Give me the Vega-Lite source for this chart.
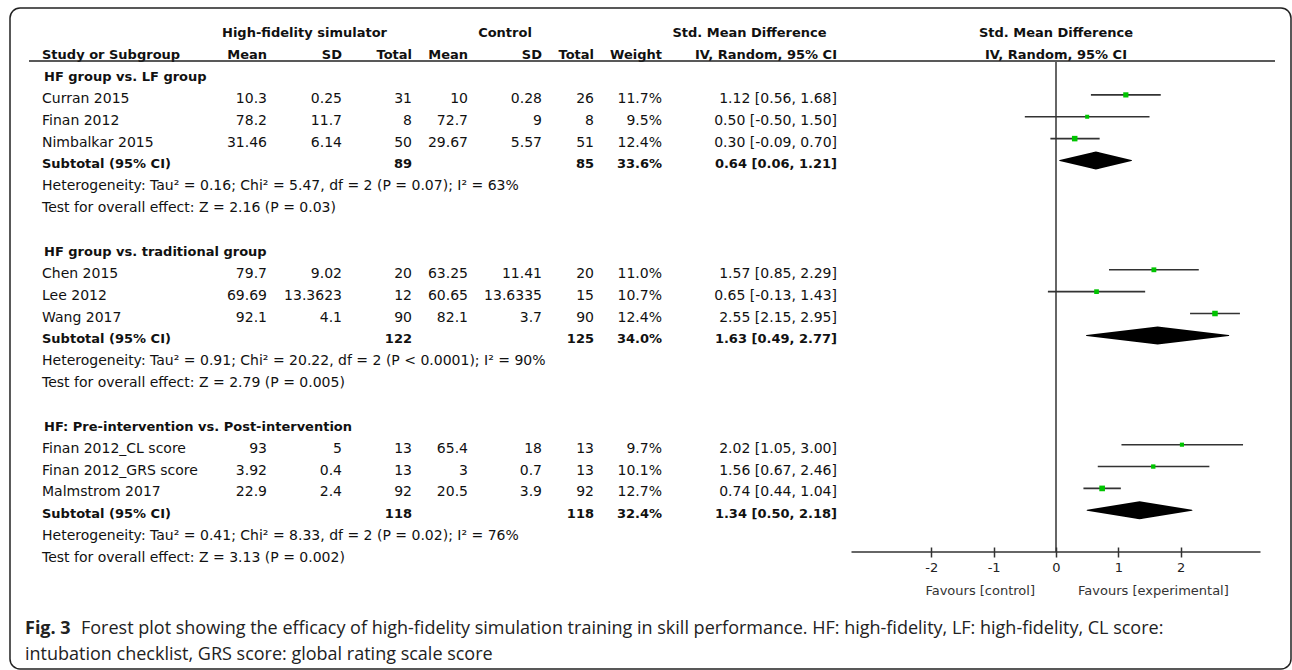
{
  "$schema": "https://vega.github.io/schema/vega-lite/v6.json",
  "width": 1281,
  "height": 661,
  "autosize": {"type": "none"},
  "padding": {"left": 10, "top": 8, "right": 1, "bottom": 1},
  "background": "white",
  "config": {"view": {"stroke": "#222", "strokeWidth": 1.5, "cornerRadius": 10}},
  "datasets": {
    "studies": [
      {"name": "Curran 2015", "kind": "study", "row": 3, "hm": 10.3, "hs": 0.25, "hn": 31, "cm": 10, "cs": 0.28, "cn": 26, "w": 0.117, "smd": 1.12, "lo": 0.56, "hi": 1.68, "ci": "1.12 [0.56, 1.68]"},
      {"name": "Finan 2012", "kind": "study", "row": 4, "hm": 78.2, "hs": 11.7, "hn": 8, "cm": 72.7, "cs": 9, "cn": 8, "w": 0.095, "smd": 0.5, "lo": -0.5, "hi": 1.5, "ci": "0.50 [-0.50, 1.50]"},
      {"name": "Nimbalkar 2015", "kind": "study", "row": 5, "hm": 31.46, "hs": 6.14, "hn": 50, "cm": 29.67, "cs": 5.57, "cn": 51, "w": 0.124, "smd": 0.3, "lo": -0.09, "hi": 0.7, "ci": "0.30 [-0.09, 0.70]"},
      {"name": "Subtotal (95% CI)", "kind": "subtotal", "row": 6, "hn": 89, "cn": 85, "w": 0.336, "smd": 0.64, "lo": 0.06, "hi": 1.21, "ci": "0.64 [0.06, 1.21]"},
      {"name": "Chen 2015", "kind": "study", "row": 11, "hm": 79.7, "hs": 9.02, "hn": 20, "cm": 63.25, "cs": 11.41, "cn": 20, "w": 0.11, "smd": 1.57, "lo": 0.85, "hi": 2.29, "ci": "1.57 [0.85, 2.29]"},
      {"name": "Lee 2012", "kind": "study", "row": 12, "hm": 69.69, "hs": 13.3623, "hn": 12, "cm": 60.65, "cs": 13.6335, "cn": 15, "w": 0.107, "smd": 0.65, "lo": -0.13, "hi": 1.43, "ci": "0.65 [-0.13, 1.43]"},
      {"name": "Wang 2017", "kind": "study", "row": 13, "hm": 92.1, "hs": 4.1, "hn": 90, "cm": 82.1, "cs": 3.7, "cn": 90, "w": 0.124, "smd": 2.55, "lo": 2.15, "hi": 2.95, "ci": "2.55 [2.15, 2.95]"},
      {"name": "Subtotal (95% CI)", "kind": "subtotal", "row": 14, "hn": 122, "cn": 125, "w": 0.34, "smd": 1.63, "lo": 0.49, "hi": 2.77, "ci": "1.63 [0.49, 2.77]"},
      {"name": "Finan 2012_CL score", "kind": "study", "row": 19, "hm": 93, "hs": 5, "hn": 13, "cm": 65.4, "cs": 18, "cn": 13, "w": 0.097, "smd": 2.02, "lo": 1.05, "hi": 3.0, "ci": "2.02 [1.05, 3.00]"},
      {"name": "Finan 2012_GRS score", "kind": "study", "row": 20, "hm": 3.92, "hs": 0.4, "hn": 13, "cm": 3, "cs": 0.7, "cn": 13, "w": 0.101, "smd": 1.56, "lo": 0.67, "hi": 2.46, "ci": "1.56 [0.67, 2.46]"},
      {"name": "Malmstrom 2017", "kind": "study", "row": 21, "hm": 22.9, "hs": 2.4, "hn": 92, "cm": 20.5, "cs": 3.9, "cn": 92, "w": 0.127, "smd": 0.74, "lo": 0.44, "hi": 1.04, "ci": "0.74 [0.44, 1.04]"},
      {"name": "Subtotal (95% CI)", "kind": "subtotal", "row": 22, "hn": 118, "cn": 118, "w": 0.324, "smd": 1.34, "lo": 0.5, "hi": 2.18, "ci": "1.34 [0.50, 2.18]"}
    ],
    "notes": [
      {"row": 2, "kind": "group", "text": "HF group vs. LF group"},
      {"row": 7, "kind": "note", "text": "Heterogeneity: Tau² = 0.16; Chi² = 5.47, df = 2 (P = 0.07); I² = 63%"},
      {"row": 8, "kind": "note", "text": "Test for overall effect: Z = 2.16 (P = 0.03)"},
      {"row": 10, "kind": "group", "text": "HF group vs. traditional group"},
      {"row": 15, "kind": "note", "text": "Heterogeneity: Tau² = 0.91; Chi² = 20.22, df = 2 (P < 0.0001); I² = 90%"},
      {"row": 16, "kind": "note", "text": "Test for overall effect: Z = 2.79 (P = 0.005)"},
      {"row": 18, "kind": "group", "text": "HF: Pre-intervention vs. Post-intervention"},
      {"row": 23, "kind": "note", "text": "Heterogeneity: Tau² = 0.41; Chi² = 8.33, df = 2 (P = 0.02); I² = 76%"},
      {"row": 24, "kind": "note", "text": "Test for overall effect: Z = 3.13 (P = 0.002)"}
    ],
    "columns": [
      {"key": "hm", "col": 1}, {"key": "hs", "col": 2}, {"key": "hn", "col": 3},
      {"key": "cm", "col": 4}, {"key": "cs", "col": 5}, {"key": "cn", "col": 6},
      {"key": "ci", "col": 8}
    ]
  },
  "layer": [
    {
      "layer": [
        {
          "data": {"values": [
            {"text": "High-fidelity simulator", "col": 1.5, "row": 0},
            {"text": "Control", "col": 4.5, "row": 0},
            {"text": "Std. Mean Difference", "col": 7.5, "row": 0},
            {"text": "Std. Mean Difference", "col": 8.5, "row": 0},
            {"text": "IV, Random, 95% CI", "col": 8.5, "row": 1}
          ]},
          "mark": {"type": "text", "align": "center", "baseline": "middle", "font": "DejaVu Sans", "fontWeight": "bold", "fontSize": 13, "color": "#111"},
          "encoding": {
            "x": {"field": "col", "type": "quantitative", "scale": {"type": "linear", "domain": [-0.5, 0, 1, 2, 3, 4, 5, 6, 7, 8, 9], "range": [19, 32, 257, 332, 402, 458, 532, 584, 652, 827, 1265], "zero": false, "nice": false}, "axis": null},
            "y": {"field": "row", "type": "quantitative", "scale": {"type": "linear", "domain": [0, 24], "range": [25.3, 550], "zero": false, "nice": false}, "axis": null},
            "text": {"field": "text"}
          }
        },
        {
          "data": {"values": [{"text": "Study or Subgroup", "col": 0, "row": 1}]},
          "mark": {"type": "text", "align": "left", "baseline": "middle", "font": "DejaVu Sans", "fontWeight": "bold", "fontSize": 13, "color": "#111"},
          "encoding": {
            "x": {"field": "col", "type": "quantitative", "scale": {"type": "linear", "domain": [-0.5, 0, 1, 2, 3, 4, 5, 6, 7, 8, 9], "range": [19, 32, 257, 332, 402, 458, 532, 584, 652, 827, 1265], "zero": false, "nice": false}, "axis": null},
            "y": {"field": "row", "type": "quantitative", "scale": {"type": "linear", "domain": [0, 24], "range": [25.3, 550], "zero": false, "nice": false}, "axis": null},
            "text": {"field": "text"}
          }
        },
        {
          "data": {"values": [
            {"text": "Mean", "col": 1, "row": 1},
            {"text": "SD", "col": 2, "row": 1},
            {"text": "Total", "col": 3, "row": 1},
            {"text": "Mean", "col": 4, "row": 1},
            {"text": "SD", "col": 5, "row": 1},
            {"text": "Total", "col": 6, "row": 1},
            {"text": "Weight", "col": 7, "row": 1},
            {"text": "IV, Random, 95% CI", "col": 8, "row": 1}
          ]},
          "mark": {"type": "text", "align": "right", "baseline": "middle", "font": "DejaVu Sans", "fontWeight": "bold", "fontSize": 13, "color": "#111"},
          "encoding": {
            "x": {"field": "col", "type": "quantitative", "scale": {"type": "linear", "domain": [-0.5, 0, 1, 2, 3, 4, 5, 6, 7, 8, 9], "range": [19, 32, 257, 332, 402, 458, 532, 584, 652, 827, 1265], "zero": false, "nice": false}, "axis": null},
            "y": {"field": "row", "type": "quantitative", "scale": {"type": "linear", "domain": [0, 24], "range": [25.3, 550], "zero": false, "nice": false}, "axis": null},
            "text": {"field": "text"}
          }
        },
        {
          "data": {"values": [{}]},
          "mark": {"type": "rule", "color": "#222", "strokeWidth": 1.5},
          "encoding": {
            "x": {"datum": -0.5, "type": "quantitative", "scale": {"type": "linear", "domain": [-0.5, 0, 1, 2, 3, 4, 5, 6, 7, 8, 9], "range": [19, 32, 257, 332, 402, 458, 532, 584, 652, 827, 1265], "zero": false, "nice": false}, "axis": null},
            "x2": {"datum": 9},
            "y": {"datum": 1.27, "type": "quantitative", "scale": {"type": "linear", "domain": [0, 24], "range": [25.3, 550], "zero": false, "nice": false}, "axis": null}
          }
        },
        {
          "data": {"name": "notes"},
          "transform": [{"filter": "datum.kind === 'group'"}],
          "mark": {"type": "text", "align": "left", "baseline": "middle", "font": "DejaVu Sans", "fontWeight": "bold", "fontSize": 13, "color": "#111", "dx": 2},
          "encoding": {
            "x": {"datum": 0, "type": "quantitative", "scale": {"type": "linear", "domain": [-0.5, 0, 1, 2, 3, 4, 5, 6, 7, 8, 9], "range": [19, 32, 257, 332, 402, 458, 532, 584, 652, 827, 1265], "zero": false, "nice": false}, "axis": null},
            "y": {"field": "row", "type": "quantitative", "scale": {"type": "linear", "domain": [0, 24], "range": [25.3, 550], "zero": false, "nice": false}, "axis": null},
            "text": {"field": "text"}
          }
        },
        {
          "data": {"name": "notes"},
          "transform": [{"filter": "datum.kind === 'note'"}],
          "mark": {"type": "text", "align": "left", "baseline": "middle", "font": "DejaVu Sans", "fontSize": 14, "color": "#111"},
          "encoding": {
            "x": {"datum": 0, "type": "quantitative", "scale": {"type": "linear", "domain": [-0.5, 0, 1, 2, 3, 4, 5, 6, 7, 8, 9], "range": [19, 32, 257, 332, 402, 458, 532, 584, 652, 827, 1265], "zero": false, "nice": false}, "axis": null},
            "y": {"field": "row", "type": "quantitative", "scale": {"type": "linear", "domain": [0, 24], "range": [25.3, 550], "zero": false, "nice": false}, "axis": null},
            "text": {"field": "text"}
          }
        },
        {
          "data": {"name": "studies"},
          "transform": [{"filter": "datum.kind === 'study'"}],
          "mark": {"type": "text", "align": "left", "baseline": "middle", "font": "DejaVu Sans", "fontSize": 14, "color": "#111"},
          "encoding": {
            "x": {"datum": 0, "type": "quantitative", "scale": {"type": "linear", "domain": [-0.5, 0, 1, 2, 3, 4, 5, 6, 7, 8, 9], "range": [19, 32, 257, 332, 402, 458, 532, 584, 652, 827, 1265], "zero": false, "nice": false}, "axis": null},
            "y": {"field": "row", "type": "quantitative", "scale": {"type": "linear", "domain": [0, 24], "range": [25.3, 550], "zero": false, "nice": false}, "axis": null},
            "text": {"field": "name"}
          }
        },
        {
          "data": {"name": "studies"},
          "transform": [{"filter": "datum.kind === 'subtotal'"}],
          "mark": {"type": "text", "align": "left", "baseline": "middle", "font": "DejaVu Sans", "fontWeight": "bold", "fontSize": 13, "color": "#111"},
          "encoding": {
            "x": {"datum": 0, "type": "quantitative", "scale": {"type": "linear", "domain": [-0.5, 0, 1, 2, 3, 4, 5, 6, 7, 8, 9], "range": [19, 32, 257, 332, 402, 458, 532, 584, 652, 827, 1265], "zero": false, "nice": false}, "axis": null},
            "y": {"field": "row", "type": "quantitative", "scale": {"type": "linear", "domain": [0, 24], "range": [25.3, 550], "zero": false, "nice": false}, "axis": null},
            "text": {"field": "name"}
          }
        },
        {
          "data": {"name": "studies"},
          "transform": [
            {"filter": "datum.kind === 'study'"},
            {"fold": ["hm", "hs", "hn", "cm", "cs", "cn", "ci"], "as": ["key", "value"]},
            {"lookup": "key", "from": {"data": {"name": "columns"}, "key": "key", "fields": ["col"]}}
          ],
          "mark": {"type": "text", "align": "right", "baseline": "middle", "font": "DejaVu Sans", "fontSize": 14, "color": "#111"},
          "encoding": {
            "x": {"field": "col", "type": "quantitative", "scale": {"type": "linear", "domain": [-0.5, 0, 1, 2, 3, 4, 5, 6, 7, 8, 9], "range": [19, 32, 257, 332, 402, 458, 532, 584, 652, 827, 1265], "zero": false, "nice": false}, "axis": null},
            "y": {"field": "row", "type": "quantitative", "scale": {"type": "linear", "domain": [0, 24], "range": [25.3, 550], "zero": false, "nice": false}, "axis": null},
            "text": {"field": "value", "type": "nominal"}
          }
        },
        {
          "data": {"name": "studies"},
          "transform": [
            {"filter": "datum.kind === 'subtotal'"},
            {"fold": ["hn", "cn", "ci"], "as": ["key", "value"]},
            {"lookup": "key", "from": {"data": {"name": "columns"}, "key": "key", "fields": ["col"]}}
          ],
          "mark": {"type": "text", "align": "right", "baseline": "middle", "font": "DejaVu Sans", "fontWeight": "bold", "fontSize": 13, "color": "#111"},
          "encoding": {
            "x": {"field": "col", "type": "quantitative", "scale": {"type": "linear", "domain": [-0.5, 0, 1, 2, 3, 4, 5, 6, 7, 8, 9], "range": [19, 32, 257, 332, 402, 458, 532, 584, 652, 827, 1265], "zero": false, "nice": false}, "axis": null},
            "y": {"field": "row", "type": "quantitative", "scale": {"type": "linear", "domain": [0, 24], "range": [25.3, 550], "zero": false, "nice": false}, "axis": null},
            "text": {"field": "value", "type": "nominal"}
          }
        },
        {
          "data": {"name": "studies"},
          "transform": [{"filter": "datum.kind === 'study'"}],
          "mark": {"type": "text", "align": "right", "baseline": "middle", "font": "DejaVu Sans", "fontSize": 14, "color": "#111"},
          "encoding": {
            "x": {"datum": 7, "type": "quantitative", "scale": {"type": "linear", "domain": [-0.5, 0, 1, 2, 3, 4, 5, 6, 7, 8, 9], "range": [19, 32, 257, 332, 402, 458, 532, 584, 652, 827, 1265], "zero": false, "nice": false}, "axis": null},
            "y": {"field": "row", "type": "quantitative", "scale": {"type": "linear", "domain": [0, 24], "range": [25.3, 550], "zero": false, "nice": false}, "axis": null},
            "text": {"field": "w", "type": "quantitative", "format": ".1%"}
          }
        },
        {
          "data": {"name": "studies"},
          "transform": [{"filter": "datum.kind === 'subtotal'"}],
          "mark": {"type": "text", "align": "right", "baseline": "middle", "font": "DejaVu Sans", "fontWeight": "bold", "fontSize": 13, "color": "#111"},
          "encoding": {
            "x": {"datum": 7, "type": "quantitative", "scale": {"type": "linear", "domain": [-0.5, 0, 1, 2, 3, 4, 5, 6, 7, 8, 9], "range": [19, 32, 257, 332, 402, 458, 532, 584, 652, 827, 1265], "zero": false, "nice": false}, "axis": null},
            "y": {"field": "row", "type": "quantitative", "scale": {"type": "linear", "domain": [0, 24], "range": [25.3, 550], "zero": false, "nice": false}, "axis": null},
            "text": {"field": "w", "type": "quantitative", "format": ".1%"}
          }
        }
      ]
    },
    {
      "layer": [
        {
          "data": {"values": [{}]},
          "mark": {"type": "rule", "color": "#333", "strokeWidth": 1.5},
          "encoding": {
            "x": {"datum": 0, "type": "quantitative", "scale": {"type": "linear", "domain": [-3.28, 3.28], "range": [841.5, 1250.5], "zero": false, "nice": false},
                  "axis": {"orient": "bottom", "offset": -122, "values": [-2, -1, 0, 1, 2], "domain": false, "grid": false, "ticks": true, "tickSize": 10, "tickWidth": 1.5, "tickColor": "#333", "labelFont": "DejaVu Sans", "labelFontSize": 13, "labelColor": "#222", "labelPadding": 4, "title": null, "labelExpr": "'' + datum.value", "labelFlush": false, "labelOverlap": false}},
            "y": {"datum": 1.5, "type": "quantitative", "scale": {"type": "linear", "domain": [0, 24], "range": [21.3, 546], "zero": false, "nice": false}, "axis": null},
            "y2": {"datum": 23.91}
          }
        },
        {
          "data": {"values": [{}]},
          "mark": {"type": "rule", "color": "#333", "strokeWidth": 1.5},
          "encoding": {
            "x": {"datum": -3.28, "type": "quantitative", "scale": {"type": "linear", "domain": [-3.28, 3.28], "range": [841.5, 1250.5], "zero": false, "nice": false},
                  "axis": {"orient": "bottom", "offset": -122, "values": [-2, -1, 0, 1, 2], "domain": false, "grid": false, "ticks": true, "tickSize": 10, "tickWidth": 1.5, "tickColor": "#333", "labelFont": "DejaVu Sans", "labelFontSize": 13, "labelColor": "#222", "labelPadding": 4, "title": null, "labelExpr": "'' + datum.value", "labelFlush": false, "labelOverlap": false}},
            "x2": {"datum": 3.28},
            "y": {"datum": 23.91, "type": "quantitative", "scale": {"type": "linear", "domain": [0, 24], "range": [21.3, 546], "zero": false, "nice": false}, "axis": null}
          }
        },
        {
          "data": {"name": "studies"},
          "transform": [{"filter": "datum.kind === 'study'"}],
          "mark": {"type": "rule", "color": "#333", "strokeWidth": 1.6},
          "encoding": {
            "x": {"field": "lo", "type": "quantitative", "scale": {"type": "linear", "domain": [-3.28, 3.28], "range": [841.5, 1250.5], "zero": false, "nice": false},
                  "axis": {"orient": "bottom", "offset": -122, "values": [-2, -1, 0, 1, 2], "domain": false, "grid": false, "ticks": true, "tickSize": 10, "tickWidth": 1.5, "tickColor": "#333", "labelFont": "DejaVu Sans", "labelFontSize": 13, "labelColor": "#222", "labelPadding": 4, "title": null, "labelExpr": "'' + datum.value", "labelFlush": false, "labelOverlap": false}},
            "x2": {"field": "hi"},
            "y": {"field": "row", "type": "quantitative", "scale": {"type": "linear", "domain": [0, 24], "range": [21.3, 546], "zero": false, "nice": false}, "axis": null}
          }
        },
        {
          "data": {"name": "studies"},
          "transform": [{"filter": "datum.kind === 'study'"}],
          "mark": {"type": "square", "filled": true, "color": "#00c400", "opacity": 1},
          "encoding": {
            "x": {"field": "smd", "type": "quantitative", "scale": {"type": "linear", "domain": [-3.28, 3.28], "range": [841.5, 1250.5], "zero": false, "nice": false},
                  "axis": {"orient": "bottom", "offset": -122, "values": [-2, -1, 0, 1, 2], "domain": false, "grid": false, "ticks": true, "tickSize": 10, "tickWidth": 1.5, "tickColor": "#333", "labelFont": "DejaVu Sans", "labelFontSize": 13, "labelColor": "#222", "labelPadding": 4, "title": null, "labelExpr": "'' + datum.value", "labelFlush": false, "labelOverlap": false}},
            "y": {"field": "row", "type": "quantitative", "scale": {"type": "linear", "domain": [0, 24], "range": [21.3, 546], "zero": false, "nice": false}, "axis": null},
            "size": {"field": "w", "type": "quantitative", "scale": {"domain": [0.095, 0.127], "range": [16, 32], "zero": false}, "legend": null}
          }
        },
        {
          "data": {"name": "studies"},
          "transform": [
            {"filter": "datum.kind === 'subtotal'"},
            {"fold": ["lo", "smd", "hi"], "as": ["vertex", "xv"]}
          ],
          "mark": {"type": "trail", "color": "#000"},
          "encoding": {
            "x": {"field": "xv", "type": "quantitative", "scale": {"type": "linear", "domain": [-3.28, 3.28], "range": [841.5, 1250.5], "zero": false, "nice": false},
                  "axis": {"orient": "bottom", "offset": -122, "values": [-2, -1, 0, 1, 2], "domain": false, "grid": false, "ticks": true, "tickSize": 10, "tickWidth": 1.5, "tickColor": "#333", "labelFont": "DejaVu Sans", "labelFontSize": 13, "labelColor": "#222", "labelPadding": 4, "title": null, "labelExpr": "'' + datum.value", "labelFlush": false, "labelOverlap": false}},
            "y": {"field": "row", "type": "quantitative", "scale": {"type": "linear", "domain": [0, 24], "range": [21.3, 546], "zero": false, "nice": false}, "axis": null},
            "size": {"field": "vertex", "type": "ordinal", "scale": {"type": "ordinal", "domain": ["lo", "smd", "hi"], "range": [0, 18, 0]}, "legend": null},
            "detail": {"field": "row", "type": "nominal"},
            "order": {"field": "xv", "type": "quantitative"}
          }
        },
        {
          "data": {"values": [{"text": "Favours [control]"}]},
          "mark": {"type": "text", "align": "right", "baseline": "middle", "font": "DejaVu Sans", "fontSize": 13, "color": "#333", "dx": -21},
          "encoding": {
            "x": {"datum": 0, "type": "quantitative", "scale": {"type": "linear", "domain": [-3.28, 3.28], "range": [841.5, 1250.5], "zero": false, "nice": false},
                  "axis": {"orient": "bottom", "offset": -122, "values": [-2, -1, 0, 1, 2], "domain": false, "grid": false, "ticks": true, "tickSize": 10, "tickWidth": 1.5, "tickColor": "#333", "labelFont": "DejaVu Sans", "labelFontSize": 13, "labelColor": "#222", "labelPadding": 4, "title": null, "labelExpr": "'' + datum.value", "labelFlush": false, "labelOverlap": false}},
            "y": {"datum": 25.7, "type": "quantitative", "scale": {"type": "linear", "domain": [0, 24], "range": [21.3, 546], "zero": false, "nice": false}, "axis": null},
            "text": {"field": "text"}
          }
        },
        {
          "data": {"values": [{"text": "Favours [experimental]"}]},
          "mark": {"type": "text", "align": "left", "baseline": "middle", "font": "DejaVu Sans", "fontSize": 13, "color": "#333", "dx": 22},
          "encoding": {
            "x": {"datum": 0, "type": "quantitative", "scale": {"type": "linear", "domain": [-3.28, 3.28], "range": [841.5, 1250.5], "zero": false, "nice": false},
                  "axis": {"orient": "bottom", "offset": -122, "values": [-2, -1, 0, 1, 2], "domain": false, "grid": false, "ticks": true, "tickSize": 10, "tickWidth": 1.5, "tickColor": "#333", "labelFont": "DejaVu Sans", "labelFontSize": 13, "labelColor": "#222", "labelPadding": 4, "title": null, "labelExpr": "'' + datum.value", "labelFlush": false, "labelOverlap": false}},
            "y": {"datum": 25.7, "type": "quantitative", "scale": {"type": "linear", "domain": [0, 24], "range": [21.3, 546], "zero": false, "nice": false}, "axis": null},
            "text": {"field": "text"}
          }
        }
      ]
    },
    {
      "layer": [
        {
          "data": {"values": [{"line": 1, "text": "Fig. 3"}]},
          "mark": {"type": "text", "align": "left", "baseline": "middle", "font": "Open Sans", "fontWeight": "bold", "fontSize": 18, "color": "#222"},
          "encoding": {
            "x": {"datum": 0, "type": "quantitative", "scale": {"type": "linear", "domain": [0, 1], "range": [15, 1280], "zero": false, "nice": false}, "axis": null},
            "y": {"field": "line", "type": "quantitative", "scale": {"type": "linear", "domain": [1, 2], "range": [621, 647], "zero": false, "nice": false}, "axis": null},
            "text": {"field": "text"}
          }
        },
        {
          "data": {"values": [{"line": 1, "text": "Forest plot showing the efficacy of high-fidelity simulation training in skill performance. HF: high-fidelity, LF: high-fidelity, CL score:"}]},
          "mark": {"type": "text", "align": "left", "baseline": "middle", "font": "Open Sans", "fontSize": 18, "color": "#222", "dx": 56},
          "encoding": {
            "x": {"datum": 0, "type": "quantitative", "scale": {"type": "linear", "domain": [0, 1], "range": [15, 1280], "zero": false, "nice": false}, "axis": null},
            "y": {"field": "line", "type": "quantitative", "scale": {"type": "linear", "domain": [1, 2], "range": [621, 647], "zero": false, "nice": false}, "axis": null},
            "text": {"field": "text"}
          }
        },
        {
          "data": {"values": [{"line": 2, "text": "intubation checklist, GRS score: global rating scale score"}]},
          "mark": {"type": "text", "align": "left", "baseline": "middle", "font": "Open Sans", "fontSize": 18, "color": "#222"},
          "encoding": {
            "x": {"datum": 0, "type": "quantitative", "scale": {"type": "linear", "domain": [0, 1], "range": [15, 1280], "zero": false, "nice": false}, "axis": null},
            "y": {"field": "line", "type": "quantitative", "scale": {"type": "linear", "domain": [1, 2], "range": [621, 647], "zero": false, "nice": false}, "axis": null},
            "text": {"field": "text"}
          }
        }
      ]
    }
  ],
  "resolve": {"scale": {"x": "independent", "y": "independent", "size": "independent"}}
}
